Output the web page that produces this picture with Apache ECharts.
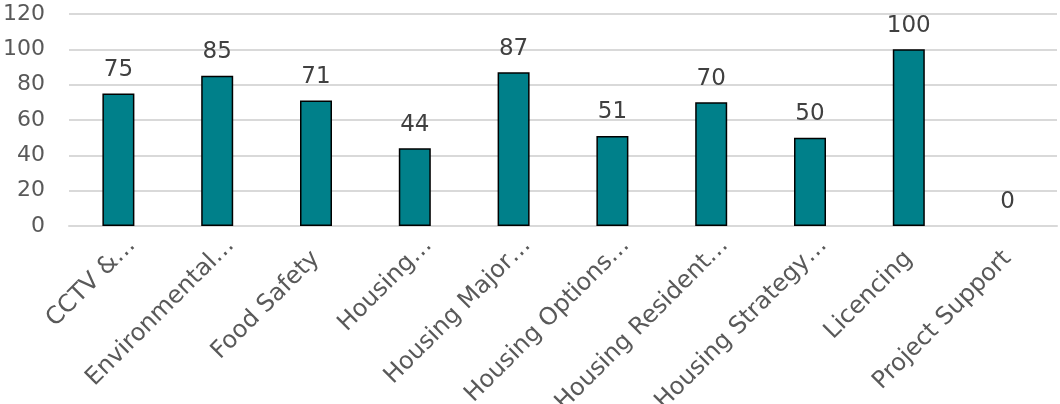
<!DOCTYPE html>
<html>
<head>
<meta charset="utf-8">
<script src="https://cdn.jsdelivr.net/npm/echarts@6/dist/echarts.min.js"></script>
<style>
	html, body { margin: 0; padding: 0; background: #fff; }
	#chart { width: 1060px; height: 404px; }
</style>
</head>
<body>
<div id="chart"></div>
<script>
const categories = ['CCTV &…', 'Environmental…', 'Food Safety', 'Housing…', 'Housing Major…', 'Housing Options…', 'Housing Resident…', 'Housing Strategy…', 'Licencing', 'Project Support']
const values = [75, 85, 71, 44, 87, 51, 70, 50, 100, 0]
const yTicks = [0, 20, 40, 60, 80, 100, 120]

const font = 'Verdana, "DejaVu Sans", sans-serif'
const chart = echarts.init(document.getElementById('chart'))
chart.setOption({
	animation: false,
	grid: {
		left: 69,
		right: 3,
		top: 14,
		bottom: 178,
		containLabel: false,
		outerBoundsMode: 'none'
	},
	xAxis: {
		type: 'category',
		// truncated labels sit further up their baseline in the original
		data: categories.map(c => c.endsWith('…')
			? { value: c, textStyle: { padding: [0, -19, 0, 0] } }
			: c),
		axisLine: {
			lineStyle: { color: '#d9d9d9', width: 2 }
		},
		axisTick: { show: false },
		axisLabel: {
			rotate: 45,
			interval: 0,
			margin: 29,
			color: '#595959',
			fontFamily: font,
			fontSize: 24
		}
	},
	yAxis: {
		type: 'value',
		min: yTicks[0],
		max: yTicks[yTicks.length - 1],
		interval: 20,
		axisLine: { show: false },
		axisTick: { show: false },
		splitLine: {
			lineStyle: { color: '#d9d9d9', width: 2 }
		},
		axisLabel: {
			margin: 24,
			color: '#595959',
			fontFamily: font,
			fontSize: 22
		}
	},
	series: [
		{
			type: 'bar',
			// no outline on an empty bar
			data: values.map(v => ({ value: v, itemStyle: { borderWidth: v ? 1.5 : 0 } })),
			barWidth: 32,
			itemStyle: {
				color: '#00808a',
				borderColor: '#000',
				borderWidth: 1.5
			},
			label: {
				show: true,
				position: 'top',
				distance: 12,
				color: '#404040',
				fontFamily: font,
				fontSize: 23
			}
		}
	]
})
</script>
</body>
</html>
